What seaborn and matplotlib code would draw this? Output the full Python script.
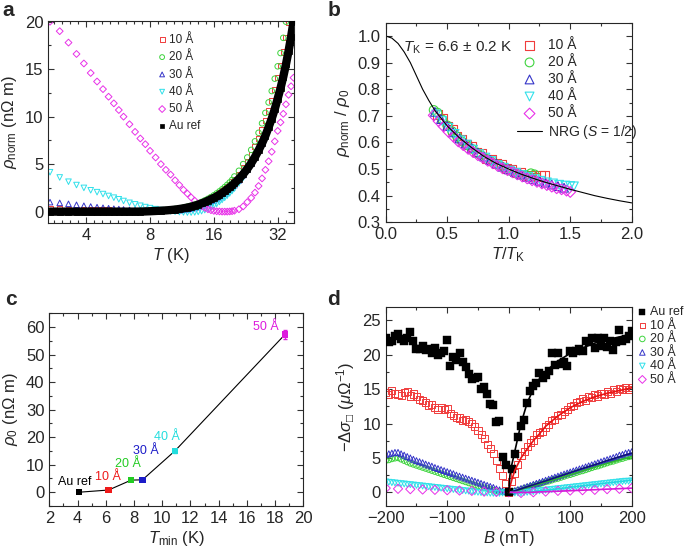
import matplotlib
matplotlib.use("Agg")
import numpy as np
import matplotlib.pyplot as plt
import seaborn as sns
from matplotlib.ticker import MultipleLocator, FixedLocator, NullFormatter, FixedFormatter

# ---------------- panel a: rho_norm vs T ----------------
temps_a = [2.7, 3.0, 3.3, 3.6, 3.9, 4.2, 4.5, 4.8, 5.1, 5.4, 5.7, 6.0, 6.4, 6.8, 7.2, 7.6, 8.0,
           8.5, 9.0, 9.5, 10, 10.5, 11, 11.5, 12, 12.5, 13, 13.5, 14, 14.5, 15, 15.5, 16, 16.5,
           17, 17.5, 18, 18.5, 19, 19.5, 20,
           21, 22, 23, 24, 25, 26, 27, 28, 29, 30, 31, 32, 33, 34, 35, 36, 37, 38]
rho_10 = [0.3, 0.28, 0.26, 0.24, 0.22, 0.2, 0.19, 0.18, 0.17, 0.16, 0.15, 0.14, 0.13, 0.12, 0.11, 0.1, 0.1,
          0.1, 0.12, 0.16, 0.2, 0.26, 0.32, 0.4, 0.48, 0.58, 0.69, 0.81, 0.95, 1.1, 1.26, 1.43, 1.6, 1.8,
          2.0, 2.2, 2.42, 2.65, 2.88, 3.12, 3.4,
          3.95, 4.6, 5.3, 6.05, 6.85, 7.7, 8.6, 9.6, 10.6, 11.7, 12.9, 14.1, 15.4, 16.8, 18.3, 19.9, 21.5, 23.2]
rho_20 = [0.05, 0.05, 0.05, 0.05, 0.05, 0.05, 0.05, 0.05, 0.05, 0.05, 0.05, 0.05, 0.05, 0.05, 0.05, 0.06, 0.08,
          0.1, 0.13, 0.17, 0.22, 0.28, 0.35, 0.43, 0.52, 0.62, 0.74, 0.87, 1.02, 1.18, 1.35, 1.53, 1.72, 1.92,
          2.13, 2.35, 2.58, 2.82, 3.07, 3.33, 3.7,
          4.3, 5.0, 5.7, 6.5, 7.4, 8.3, 9.3, 10.4, 11.5, 12.7, 14.0, 15.3, 16.7, 18.3, 20.0, 21.7, 23.4, 25.2]
rho_30 = [1.0, 0.92, 0.82, 0.72, 0.62, 0.54, 0.47, 0.41, 0.36, 0.31, 0.27, 0.23, 0.19, 0.16, 0.13, 0.11, 0.09,
          0.08, 0.08, 0.09, 0.1, 0.12, 0.15, 0.19, 0.24, 0.3, 0.38, 0.47, 0.58, 0.7, 0.84, 0.99, 1.15, 1.32,
          1.5, 1.69, 1.89, 2.1, 2.32, 2.55, 2.79,
          3.3, 3.85, 4.45, 5.1, 5.8, 6.5, 7.3, 8.15, 9.05, 10.0, 11.0, 12.1, 13.25, 14.5, 15.8, 17.2, 18.7, 20.3]
rho_40 = [4.15, 3.6, 3.15, 2.8, 2.5, 2.25, 2.05, 1.85, 1.65, 1.47, 1.3, 1.12, 0.93, 0.77, 0.62, 0.48, 0.37,
          0.26, 0.17, 0.1, 0.04, -0.01, -0.05, -0.08, -0.1, -0.1, -0.08, -0.03, 0.05, 0.16, 0.3, 0.46, 0.63, 0.82,
          1.02, 1.23, 1.45, 1.68, 1.92, 2.17, 2.43,
          2.98, 3.57, 4.2, 4.88, 5.6, 6.35, 7.15, 8.0, 8.8, 9.6, 10.6, 11.6, 12.7, 13.8, 15.0, 16.3, 17.7, 19.2]
rho_50 = [20.0, 19.0, 17.8, 16.6, 15.6, 14.6, 13.7, 12.9, 12.1, 11.4, 10.7, 10.0, 9.2, 8.4, 7.7, 7.1, 6.4,
          5.7, 5.0, 4.4, 3.9, 3.3, 2.8, 2.3, 1.9, 1.5, 1.15, 0.85, 0.6, 0.4, 0.25, 0.15, 0.08, 0.04,
          0.02, 0.0, 0.0, 0.0, 0.02, 0.05, 0.1,
          0.25, 0.55, 1.0, 1.45, 2.0, 2.7, 3.5, 4.4, 5.3, 6.3, 7.4, 8.5, 9.4, 10.3, 11.3, 12.3, 13.2, 14.1]
rho_au = [0.0, 0.0, 0.0, 0.0, 0.0, 0.0, 0.0, 0.0, 0.0, 0.0, 0.0, 0.0, 0.0, 0.0, 0.01, 0.02, 0.04,
          0.07, 0.1, 0.13, 0.17, 0.22, 0.28, 0.35, 0.43, 0.52, 0.62, 0.74, 0.87, 1.0, 1.15, 1.3, 1.45, 1.6,
          1.78, 1.96, 2.15, 2.35, 2.55, 2.76, 2.98,
          3.45, 3.95, 4.5, 5.1, 5.75, 6.45, 7.2, 8.0, 8.9, 9.8, 10.8, 11.9, 13.0, 14.2, 15.5, 16.9, 18.4, 20.0]

# ---------------- panel b: scaled curves + NRG ----------------
b_x_10 = [0.42, 0.46, 0.50, 0.54, 0.58, 0.62, 0.66, 0.70, 0.74, 0.78, 0.82, 0.86, 0.90, 0.94, 0.98,
          1.02, 1.06, 1.10, 1.14, 1.18, 1.22, 1.26, 1.29]
b_y_10 = [0.705, 0.690, 0.662, 0.648, 0.624, 0.612, 0.592, 0.584, 0.564, 0.559, 0.538, 0.536, 0.520,
          0.516, 0.502, 0.500, 0.486, 0.486, 0.474, 0.476, 0.470, 0.476, 0.477]
b_x_20 = [0.39, 0.42, 0.46, 0.50, 0.54, 0.58, 0.62, 0.66, 0.70, 0.74, 0.78, 0.82, 0.86, 0.90, 0.94,
          0.98, 1.02, 1.06, 1.10, 1.14, 1.18, 1.21]
b_y_20 = [0.722, 0.712, 0.686, 0.664, 0.642, 0.622, 0.604, 0.590, 0.576, 0.562, 0.550, 0.538, 0.528,
          0.518, 0.510, 0.500, 0.492, 0.484, 0.478, 0.478, 0.484, 0.480]
b_x_30 = [0.40, 0.45, 0.50, 0.55, 0.60, 0.65, 0.70, 0.75, 0.80, 0.85, 0.90, 0.95, 1.00, 1.05, 1.10,
          1.15, 1.20, 1.25, 1.30, 1.35, 1.40, 1.45]
b_y_30 = [0.715, 0.688, 0.662, 0.638, 0.615, 0.596, 0.579, 0.562, 0.547, 0.534, 0.521, 0.509, 0.499,
          0.489, 0.480, 0.471, 0.463, 0.456, 0.449, 0.442, 0.436, 0.430]
b_x_40 = [0.41, 0.46, 0.51, 0.56, 0.61, 0.66, 0.71, 0.76, 0.81, 0.86, 0.91, 0.96, 1.01, 1.06, 1.11,
          1.16, 1.21, 1.26, 1.31, 1.36, 1.41, 1.46, 1.50, 1.53]
b_y_40 = [0.705, 0.680, 0.655, 0.632, 0.608, 0.592, 0.573, 0.556, 0.543, 0.530, 0.515, 0.505, 0.494,
          0.486, 0.477, 0.470, 0.462, 0.456, 0.450, 0.446, 0.441, 0.438, 0.436, 0.435]
b_x_50 = [0.39, 0.43, 0.47, 0.51, 0.55, 0.59, 0.63, 0.67, 0.71, 0.75, 0.79, 0.83, 0.87, 0.91, 0.95,
          0.99, 1.03, 1.07, 1.11, 1.15, 1.19, 1.23, 1.27, 1.31, 1.35, 1.39, 1.43, 1.47, 1.50]
b_y_50 = [0.702, 0.680, 0.660, 0.640, 0.622, 0.604, 0.590, 0.576, 0.564, 0.552, 0.542, 0.531, 0.522,
          0.512, 0.503, 0.496, 0.488, 0.480, 0.472, 0.465, 0.458, 0.452, 0.446, 0.440, 0.434, 0.428,
          0.424, 0.419, 0.414]
nrg_x = [0, 0.05, 0.1, 0.15, 0.2, 0.25, 0.3, 0.35, 0.4, 0.5, 0.6, 0.7, 0.8, 0.9, 1.0, 1.1, 1.2, 1.3,
         1.4, 1.5, 1.6, 1.7, 1.8, 1.9, 2.0]
nrg_y = [1.0, 0.992, 0.972, 0.94, 0.9, 0.85, 0.8, 0.758, 0.72, 0.662, 0.617, 0.58, 0.547, 0.521, 0.5,
         0.481, 0.465, 0.45, 0.437, 0.424, 0.412, 0.4, 0.39, 0.381, 0.373]

# ---------------- panel c: rho_0 vs T_min ----------------
c_labels = ["Au ref", "10 Å", "20 Å", "30 Å", "40 Å", "50 Å"]
t_min = [4.1, 6.2, 7.8, 8.6, 10.9, 18.7]
rho_0 = [0.0, 0.8, 4.4, 4.5, 15.0, 57.3]
rho_0_err = [0.3, 0.3, 0.4, 0.4, 0.6, 1.5]

# ---------------- panel d: magnetoconductance ----------------
field = list(range(-200, 201, 5))
dsig_au = [22.5, 21.8, 22.0, 22.7, 23.0, 22.3, 22.0, 22.4, 23.3, 22.0,
           20.8, 20.9, 21.3, 20.7, 20.8, 20.3, 21.0, 20.0, 20.2, 20.5,
           22.2, 18.3, 19.7, 19.2, 20.3, 18.9, 18.2, 17.2, 16.5, 16.6,
           16.8, 15.0, 15.3, 14.3, 12.9, 12.7, 10.2, 10.4, 5.2, 3.9,
           0.0,
           3.4, 5.5, 8.0, 9.6, 10.5, 13.0, 14.7, 15.5, 15.9, 17.4,
           16.6, 17.1, 17.7, 20.2, 18.5, 20.3, 18.7, 19.0, 18.4, 20.6,
           20.2, 20.5, 20.9, 20.6, 22.0, 21.9, 22.4, 21.0, 22.5, 21.3,
           22.4, 21.1, 22.0, 20.7, 21.8, 23.6, 22.0, 22.3, 22.7, 23.4]
dsig_10 = [14.5, 14.2, 14.8, 14.4, 14.3, 14.1, 14.5, 14.6, 14.0, 14.3,
           13.9, 13.5, 13.4, 13.0, 12.7, 12.8, 12.3, 12.0, 12.3, 12.1,
           12.2, 11.4, 11.2, 10.9, 10.8, 10.5, 10.6, 10.3, 10.0, 9.6,
           9.0, 8.4, 7.8, 7.0, 6.4, 5.6, 4.6, 3.5, 2.4, 1.3,
           0.0,
           1.5, 2.8, 4.0, 5.3, 5.9, 6.6, 7.3, 7.6, 8.4, 8.7,
           8.8, 9.5, 9.8, 10.4, 10.6, 11.2, 11.3, 11.8, 12.1, 12.5,
           12.6, 13.0, 13.2, 13.6, 13.4, 13.9, 13.8, 14.2, 14.0, 14.4,
           14.3, 14.6, 14.4, 14.9, 14.6, 15.1, 15.0, 15.2, 14.9, 15.3]
dsig_20 = [4.6, 4.7, 4.85, 4.95, 5.0, 4.8, 4.6, 4.4, 4.2, 4.05,
           3.9, 3.75, 3.6, 3.45, 3.3, 3.15, 3.0, 2.85, 2.7, 2.55,
           2.4, 2.25, 2.1, 1.95, 1.8, 1.65, 1.5, 1.35, 1.2, 1.05,
           0.9, 0.8, 0.65, 0.55, 0.4, 0.3, 0.2, 0.1, 0.05, 0.0,
           0.0,
           0.05, 0.15, 0.3, 0.4, 0.55, 0.7, 0.8, 0.95, 1.1, 1.2,
           1.35, 1.5, 1.6, 1.75, 1.9, 2.0, 2.15, 2.3, 2.45, 2.55,
           2.7, 2.85, 3.0, 3.1, 3.25, 3.4, 3.55, 3.7, 3.8, 3.95,
           4.1, 4.25, 4.4, 4.5, 4.65, 4.8, 4.9, 5.05, 5.15, 5.25]
dsig_30 = [5.5, 5.6, 5.7, 5.8, 5.8, 5.6, 5.4, 5.2, 5.0, 4.8,
           4.6, 4.45, 4.3, 4.1, 3.95, 3.8, 3.6, 3.45, 3.3, 3.15,
           3.0, 2.85, 2.7, 2.5, 2.35, 2.2, 2.05, 1.9, 1.75, 1.6,
           1.45, 1.3, 1.15, 1.0, 0.85, 0.7, 0.5, 0.35, 0.2, 0.1,
           0.0,
           0.1, 0.25, 0.4, 0.55, 0.7, 0.85, 1.0, 1.15, 1.3, 1.45,
           1.6, 1.75, 1.9, 2.05, 2.2, 2.35, 2.5, 2.65, 2.8, 2.95,
           3.1, 3.25, 3.4, 3.55, 3.7, 3.85, 4.0, 4.15, 4.3, 4.45,
           4.6, 4.75, 4.9, 5.05, 5.2, 5.4, 5.5, 5.7, 5.8, 5.9]
dsig_40 = [1.5, 1.45, 1.4, 1.35, 1.3, 1.25, 1.2, 1.15, 1.1, 1.05,
           1.0, 0.95, 0.9, 0.85, 0.8, 0.75, 0.7, 0.65, 0.6, 0.55,
           0.5, 0.45, 0.4, 0.35, 0.3, 0.25, 0.2, 0.15, 0.1, 0.05,
           0.0, -0.05, -0.1, -0.1, -0.15, -0.15, -0.15, -0.15, -0.1, -0.05,
           0.0,
           -0.05, -0.1, -0.1, -0.1, -0.05, 0.0, 0.05, 0.1, 0.15, 0.2,
           0.25, 0.3, 0.35, 0.4, 0.45, 0.5, 0.55, 0.6, 0.65, 0.7,
           0.75, 0.8, 0.85, 0.9, 0.95, 1.0, 1.05, 1.1, 1.15, 1.2,
           1.25, 1.3, 1.35, 1.4, 1.45, 1.5, 1.55, 1.6, 1.6, 1.65]
field_50 = list(range(-200, 201, 20))
dsig_50 = [0.6, 0.5, 0.45, 0.4, 0.35, 0.3, 0.25, 0.2, 0.1, 0.05, 0.0,
           -0.1, 0.0, 0.1, 0.2, 0.25, 0.3, 0.35, 0.45, 0.5, 0.6]
fit_field = [0, 2, 5, 10, 20, 30, 40, 50, 60, 80, 100, 120, 140, 160, 180, 200]
fit_au = [0.0, 2.5, 4.0, 6.0, 10.0, 13.0, 15.0, 16.5, 17.6, 19.1, 20.2, 21.0, 21.7, 22.2, 22.6, 23.0]
fit_10 = [0.0, 0.8, 1.8, 3.2, 5.0, 6.3, 7.5, 8.5, 9.6, 11.1, 12.3, 13.2, 13.9, 14.4, 14.8, 15.2]
fit_20 = [0.0, 0.03, 0.08, 0.18, 0.42, 0.68, 0.95, 1.2, 1.47, 2.0, 2.55, 3.1, 3.65, 4.2, 4.7, 5.2]
fit_30 = [0.0, 0.04, 0.1, 0.22, 0.5, 0.8, 1.08, 1.37, 1.65, 2.25, 2.85, 3.45, 4.0, 4.6, 5.15, 5.7]
fit_40 = [0.0, -0.02, -0.04, -0.06, -0.05, 0.02, 0.1, 0.2, 0.3, 0.5, 0.72, 0.93, 1.14, 1.35, 1.55, 1.75]
fit_50 = [0.0, 0.0, 0.0, -0.02, -0.03, -0.02, 0.0, 0.05, 0.08, 0.15, 0.22, 0.3, 0.37, 0.45, 0.52, 0.6]

# series colours
RED, GREEN, BLUE, CYAN, MAG = "#f03c3c", "#3ed43e", "#3434c8", "#30e0ea", "#e830e8"

sns.set_style("ticks")
plt.rcParams["font.family"] = ["Liberation Sans", "DejaVu Sans"]
plt.rcParams["mathtext.fontset"] = "custom"
plt.rcParams["mathtext.rm"] = "Liberation Sans"
plt.rcParams["mathtext.it"] = "Liberation Sans:italic"
plt.rcParams["mathtext.bf"] = "Liberation Sans:bold"
plt.rcParams["axes.linewidth"] = 0.8

fig = plt.figure(figsize=(6.85, 5.53), dpi=100)
ax_a = fig.add_axes([0.0705, 0.5967, 0.3587, 0.3658])
ax_b = fig.add_axes([0.5631, 0.598, 0.3591, 0.361])
ax_c = fig.add_axes([0.072, 0.085, 0.3708, 0.3485])
ax_d = fig.add_axes([0.5631, 0.085, 0.3591, 0.3604])


def style(ax):
    ax.tick_params(which="both", direction="in", top=True, right=True, labelsize=12,
                   width=0.8, color="#333333")
    ax.tick_params(which="major", length=4)
    ax.tick_params(which="minor", length=2)


def open_pts(ax, x, y, c, m, s, label=None, lw=0.7):
    sns.scatterplot(x=x, y=y, ax=ax, marker=m, s=s, color=c, facecolor="none",
                    edgecolor=c, linewidth=lw, label=label)


def shrink_handles(leg, size):
    for h in leg.legend_handles:
        if hasattr(h, "set_sizes"):
            h.set_sizes([size])


# ---- a ----
open_pts(ax_a, temps_a, rho_10, RED, "s", 14, "10 Å")
open_pts(ax_a, temps_a, rho_20, GREEN, "o", 16, "20 Å")
open_pts(ax_a, temps_a, rho_30, BLUE, "^", 16, "30 Å")
open_pts(ax_a, temps_a, rho_40, CYAN, "v", 16, "40 Å")
open_pts(ax_a, temps_a, rho_50, MAG, "D", 12, "50 Å")
sns.lineplot(x=temps_a, y=rho_au, ax=ax_a, color="k", lw=6, zorder=3)
sns.scatterplot(x=temps_a, y=rho_au, ax=ax_a, marker="s", s=18, color="k",
                edgecolor="k", linewidth=0.5, label="Au ref", zorder=4)
ax_a.set_xscale("log", base=2)
ax_a.set_xlim(2.65, 38.2)
ax_a.set_ylim(-1.2, 20.1)
ax_a.xaxis.set_major_locator(FixedLocator([4, 8, 16, 32]))
ax_a.xaxis.set_major_formatter(FixedFormatter(["4", "8", "16", "32"]))
ax_a.xaxis.set_minor_locator(FixedLocator(2 ** (np.arange(11, 43) / 8)))
ax_a.xaxis.set_minor_formatter(NullFormatter())
ax_a.yaxis.set_major_locator(MultipleLocator(5))
ax_a.yaxis.set_minor_locator(MultipleLocator(2.5))
ax_a.set_xlabel(r"$T$ (K)", fontsize=12, labelpad=2)
ax_a.set_ylabel(r"$\rho_{\rm norm}$ (n$\Omega$ m)", fontsize=12, labelpad=4)
leg_a = ax_a.legend(loc="upper left", bbox_to_anchor=(0.42, 0.97), frameon=False, fontsize=8.5,
                    handlelength=0.6, handletextpad=0.3, labelspacing=0.45, borderaxespad=0.2)
shrink_handles(leg_a, 12)
style(ax_a)

# ---- b ----
open_pts(ax_b, b_x_10, b_y_10, RED, "s", 40, "10 Å", 0.8)
open_pts(ax_b, b_x_20, b_y_20, GREEN, "o", 40, "20 Å", 0.8)
open_pts(ax_b, b_x_30, b_y_30, BLUE, "^", 40, "30 Å", 0.8)
open_pts(ax_b, b_x_40, b_y_40, CYAN, "v", 40, "40 Å", 0.8)
open_pts(ax_b, b_x_50, b_y_50, MAG, "D", 30, "50 Å", 0.8)
sns.lineplot(x=nrg_x, y=nrg_y, ax=ax_b, color="k", lw=0.8, label=r"NRG ($S$ = 1/2)")
ax_b.set_xlim(0, 2)
ax_b.set_ylim(0.3, 1.05)
ax_b.xaxis.set_major_locator(MultipleLocator(0.5))
ax_b.xaxis.set_minor_locator(MultipleLocator(0.25))
ax_b.yaxis.set_major_locator(MultipleLocator(0.1))
ax_b.yaxis.set_minor_locator(MultipleLocator(0.05))
ax_b.set_xlabel(r"$T$/$T_{\rm K}$", fontsize=12, labelpad=2)
ax_b.set_ylabel(r"$\rho_{\rm norm}$ / $\rho_0$", fontsize=12, labelpad=4)
ax_b.text(0.07, 0.873, r"$T_{\rm K}$ = 6.6 ± 0.2 K", transform=ax_b.transAxes,
          fontsize=11, va="center")
ax_b.legend(loc="upper left", bbox_to_anchor=(0.5, 0.965), frameon=False, fontsize=10,
            handlelength=1.8, handletextpad=0.45, labelspacing=0.22, borderaxespad=0.2)
style(ax_b)

# ---- c ----
c_colors = ["k", "#ee1a1a", "#22cc22", "#1c1cc8", "#22dddd", "#dd1add"]
sns.lineplot(x=t_min, y=rho_0, ax=ax_c, color="k", lw=0.8)
for tx, ty, te, col in zip(t_min, rho_0, rho_0_err, c_colors):
    ax_c.errorbar([tx], [ty], yerr=[te], fmt="none", ecolor=col, elinewidth=0.8, capsize=1.5)
sns.scatterplot(x=t_min, y=rho_0, hue=c_labels, palette=c_colors, marker="s", s=22,
                linewidth=0, ax=ax_c, legend=False, zorder=5)
c_text_xy = [(3.77, 3.8), (6.12, 5.5), (7.58, 10.2), (8.85, 15.1), (10.34, 20.1), (17.36, 60.0)]
for lab, col, (tx, ty) in zip(c_labels, c_colors, c_text_xy):
    ax_c.text(tx, ty, lab, color=col, fontsize=9, ha="center", va="center")
ax_c.set_xlim(2, 20)
ax_c.set_ylim(-5, 65)
ax_c.xaxis.set_major_locator(MultipleLocator(2))
ax_c.xaxis.set_minor_locator(MultipleLocator(1))
ax_c.yaxis.set_major_locator(MultipleLocator(10))
ax_c.yaxis.set_minor_locator(MultipleLocator(5))
ax_c.set_xlabel(r"$T_{\rm min}$ (K)", fontsize=12, labelpad=2)
ax_c.set_ylabel(r"$\rho_0$ (n$\Omega$ m)", fontsize=12, labelpad=4)
style(ax_c)

# ---- d ----
sns.scatterplot(x=field, y=dsig_au, ax=ax_d, marker="s", s=26, color="k", edgecolor="k",
                linewidth=0.3, label="Au ref", zorder=4)
open_pts(ax_d, field, dsig_10, RED, "s", 26, "10 Å")
open_pts(ax_d, field, dsig_20, GREEN, "o", 16, "20 Å")
open_pts(ax_d, field, dsig_30, BLUE, "^", 18, "30 Å")
open_pts(ax_d, field, dsig_40, CYAN, "v", 18, "40 Å")
open_pts(ax_d, field_50, dsig_50, MAG, "D", 22, "50 Å")
for fy, fc in [(fit_20, "#2fb82f"), (fit_30, "#10107a"), (fit_40, "#22d6e0"),
               (fit_50, "#d81ad8"), (fit_10, "#e81414"), (fit_au, "k")]:
    sns.lineplot(x=fit_field, y=fy, ax=ax_d, color=fc, lw=1.2, zorder=5)
ax_d.set_xlim(-200, 200)
ax_d.set_ylim(-2, 27)
ax_d.xaxis.set_major_locator(MultipleLocator(100))
ax_d.xaxis.set_minor_locator(MultipleLocator(50))
ax_d.yaxis.set_major_locator(MultipleLocator(5))
ax_d.yaxis.set_minor_locator(MultipleLocator(2.5))
ax_d.set_xlabel(r"$B$ (mT)", fontsize=12, labelpad=2)
ax_d.set_ylabel(r"$-\mathit{\Delta}\sigma_{□}$ ($\mu\Omega^{-1}$)", fontsize=12, labelpad=4)
leg_d = ax_d.legend(loc="upper left", bbox_to_anchor=(1.0, 1.04), frameon=False, fontsize=9,
                    handlelength=0.5, handletextpad=0.35, labelspacing=0.12, borderaxespad=0.2)
shrink_handles(leg_d, 16)
style(ax_d)

for lab, x, y in [("a", 0.003, 0.971), ("b", 0.478, 0.971), ("c", 0.008, 0.449), ("d", 0.478, 0.449)]:
    fig.text(x, y, lab, fontsize=15, fontweight="bold", va="baseline")

fig.savefig("out.png", dpi=100)
